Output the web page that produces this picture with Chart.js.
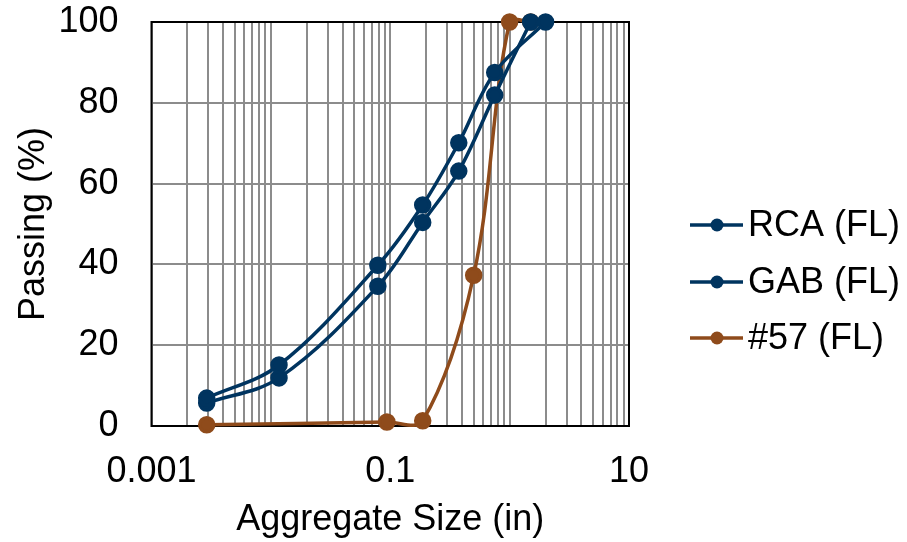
<!DOCTYPE html>
<html>
<head>
<meta charset="utf-8">
<script src="https://cdn.jsdelivr.net/npm/chart.js@4/dist/chart.umd.min.js"></script>
<style>
  html, body { margin: 0; padding: 0; background: #fff; }
  #wrap { width: 907px; height: 542px; }
</style>
</head>
<body>
<div id="wrap"><canvas id="c" width="907" height="542"></canvas></div>
<script>
// sieve sizes (in) and percent passing
const rcaSize = [0.0029, 0.0117, 0.0787, 0.187, 0.375, 0.75, 2];
const rcaPass = [6.9, 15.1, 39.8, 54.7, 70.1, 87.5, 100];
const gabSize = [0.0029, 0.0117, 0.0787, 0.187, 0.375, 0.75, 1.5];
const gabPass = [5.7, 11.9, 34.6, 50.4, 63.1, 81.9, 100];
const n57Size = [0.0029, 0.0937, 0.187, 0.5, 1, 1.5];
const n57Pass = [0.3, 1.0, 1.3, 37.3, 100, 100];

const seriesNames = ['RCA (FL)', 'GAB (FL)', '#57 (FL)'];
const seriesColors = ['#00345f', '#00345f', '#8f4b1b'];

// log axis: decades and the ones that get a label
const decades = [0.001, 0.01, 0.1, 1, 10];
const labeledTicks = ['0.001', '0.1', '10'];

const FONT = 'Liberation Sans, Arial, sans-serif';

function pts(xs, ys) { return xs.map((x, i) => ({ x: x, y: ys[i] })); }

function makeSet(idx, xs, ys) {
  return {
    label: seriesNames[idx],
    data: pts(xs, ys),
    borderColor: seriesColors[idx],
    backgroundColor: seriesColors[idx],
    borderWidth: 3.5,
    pointRadius: 7,
    pointHoverRadius: 7,
    tension: 0.35,
    fill: false,
    clip: false
  };
}

// box around the plot area (under the markers)
const frame = {
  id: 'frame',
  beforeDatasetsDraw(chart) {
    const a = chart.chartArea, ctx = chart.ctx;
    ctx.save();
    ctx.strokeStyle = '#000';
    ctx.lineWidth = 2;
    ctx.strokeRect(a.left, a.top, a.right - a.left, a.bottom - a.top);
    ctx.restore();
  }
};

// Excel-like legend: line with a dot, then the name
const sideLegend = {
  id: 'sideLegend',
  afterDraw(chart) {
    const ctx = chart.ctx;
    const ys = [225, 282, 338];
    ctx.save();
    chart.data.datasets.forEach((ds, i) => {
      const y = ys[i];
      ctx.strokeStyle = ds.borderColor;
      ctx.lineWidth = 3.5;
      ctx.beginPath();
      ctx.moveTo(690, y);
      ctx.lineTo(743, y);
      ctx.stroke();
      ctx.fillStyle = ds.borderColor;
      ctx.beginPath();
      ctx.arc(717, y, 6.5, 0, Math.PI * 2);
      ctx.fill();
      ctx.fillStyle = '#000';
      ctx.font = '36px ' + FONT;
      ctx.textBaseline = 'middle';
      ctx.textAlign = 'left';
      ctx.fillText(ds.label, 748, y + 1);
    });
    ctx.restore();
  }
};

new Chart(document.getElementById('c'), {
  type: 'line',
  data: {
    datasets: [
      makeSet(0, rcaSize, rcaPass),
      makeSet(1, gabSize, gabPass),
      makeSet(2, n57Size, n57Pass)
    ]
  },
  options: {
    responsive: false,
    animation: false,
    events: [],
    layout: { padding: { top: 22, right: 278, left: 0, bottom: 0 } },
    elements: { line: { capBezierPoints: false } },
    plugins: { legend: { display: false }, tooltip: { enabled: false } },
    scales: {
      x: {
        type: 'logarithmic',
        min: 0.001,
        max: 10,
        afterBuildTicks(scale) {
          const t = [];
          for (let d = 0; d < decades.length - 1; d++) {
            for (let m = 1; m <= 9; m++) t.push({ value: m * decades[d] });
          }
          t.push({ value: decades[decades.length - 1] });
          scale.ticks = t;
        },
        afterFit(scale) {
          scale.height = 116;
          scale.paddingLeft = 0;
          scale.paddingRight = 0;
        },
        grid: { color: '#8c8c8c', lineWidth: 2, drawTicks: false },
        border: { display: false },
        ticks: {
          autoSkip: false,
          maxRotation: 0,
          padding: 24,
          color: '#000',
          font: { family: FONT, size: 36 },
          callback(v) {
            const s = labeledTicks.find(l => Math.abs(Math.log10(parseFloat(l)) - Math.log10(v)) < 1e-6);
            return s || '';
          }
        },
        title: {
          display: true,
          text: 'Aggregate Size (in)',
          color: '#000',
          font: { family: FONT, size: 36 },
          padding: { top: 0, bottom: 0 }
        }
      },
      y: {
        min: 0,
        max: 100,
        afterFit(scale) {
          scale.width = 151.5;
          scale.paddingTop = 0;
          scale.paddingBottom = 0;
        },
        grid: { color: '#8c8c8c', lineWidth: 2, drawTicks: false },
        border: { display: false },
        ticks: {
          stepSize: 20,
          padding: 33,
          color: '#000',
          font: { family: FONT, size: 36 }
        },
        title: {
          display: true,
          text: 'Passing (%)',
          color: '#000',
          font: { family: FONT, size: 36 },
          padding: { top: 12, bottom: 0 }
        }
      }
    }
  },
  plugins: [frame, sideLegend]
});
</script>
</body>
</html>
